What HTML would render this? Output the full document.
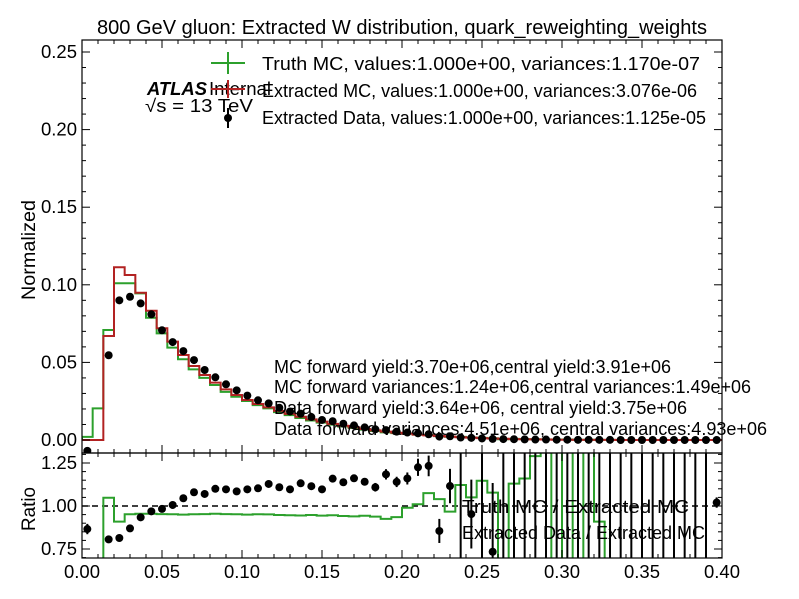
<!DOCTYPE html>
<html><head><meta charset="utf-8"><style>
html,body{margin:0;padding:0;background:#fff;overflow:hidden;}
svg{display:block;font-family:"Liberation Sans",sans-serif;}
</style></head><body>
<svg id="chart" width="799" height="599" viewBox="0 0 799 599">
<defs>
<clipPath id="cm"><rect x="82" y="40" width="640" height="413"/></clipPath>
<clipPath id="cr"><rect x="82" y="453" width="640" height="105"/></clipPath>
</defs>
<rect x="0" y="0" width="799" height="599" fill="#fff"/>
<text x="97" y="34" font-size="20" textLength="610" lengthAdjust="spacingAndGlyphs">800 GeV gluon: Extracted W distribution, quark_reweighting_weights</text>
<g id="main" clip-path="url(#cm)"></g>
<g id="ratio" clip-path="url(#cr)"></g>
<g id="axes"></g>
<text transform="translate(35,300) rotate(-90)" font-size="19" textLength="100" lengthAdjust="spacingAndGlyphs">Normalized</text>
<text transform="translate(35,531) rotate(-90)" font-size="19" textLength="44" lengthAdjust="spacingAndGlyphs">Ratio</text>
<g>
<text x="147" y="95" font-size="18" font-weight="bold" font-style="italic" textLength="60" lengthAdjust="spacingAndGlyphs">ATLAS</text>
<text x="209" y="95" font-size="18" textLength="62" lengthAdjust="spacingAndGlyphs">Internal</text>
<text x="145" y="112" font-size="18" textLength="108" lengthAdjust="spacingAndGlyphs">√s =  13 TeV</text>
</g>
<g>
<g><line x1="211" y1="63" x2="245" y2="63" stroke="#2ca02c" stroke-width="2"/><line x1="228" y1="52" x2="228" y2="74" stroke="#2ca02c" stroke-width="2"/><text x="262" y="70" font-size="18" textLength="438" lengthAdjust="spacingAndGlyphs">Truth MC, values:1.000e+00, variances:1.170e-07</text></g>
<g><line x1="211" y1="89" x2="245" y2="89" stroke="#b22222" stroke-width="2"/><line x1="228" y1="80" x2="228" y2="98" stroke="#b22222" stroke-width="2"/><text x="262" y="97" font-size="18" textLength="435" lengthAdjust="spacingAndGlyphs">Extracted MC, values:1.000e+00, variances:3.076e-06</text></g>
<g><line x1="228" y1="108" x2="228" y2="128" stroke="#000" stroke-width="2"/><circle cx="228" cy="118" r="4" fill="#000"/><text x="262" y="124" font-size="18" textLength="444" lengthAdjust="spacingAndGlyphs">Extracted Data, values:1.000e+00, variances:1.125e-05</text></g>
</g>
<g font-size="18">
<text x="274" y="373" textLength="397" lengthAdjust="spacingAndGlyphs">MC forward yield:3.70e+06,central yield:3.91e+06</text>
<text x="274" y="393" textLength="477" lengthAdjust="spacingAndGlyphs">MC forward variances:1.24e+06,central variances:1.49e+06</text>
<text x="274" y="414" textLength="413" lengthAdjust="spacingAndGlyphs">Data forward yield:3.64e+06, central yield:3.75e+06</text>
<text x="274" y="435" textLength="493" lengthAdjust="spacingAndGlyphs">Data forward variances:4.51e+06, central variances:4.93e+06</text>
</g>
<g font-size="18">
<text x="462" y="513" textLength="227" lengthAdjust="spacingAndGlyphs">Truth MC / Extracted MC</text>
<text x="462" y="539" textLength="243" lengthAdjust="spacingAndGlyphs">Extracted Data / Extracted MC</text>
</g>
</svg>
<script>
const nBins = 60;
const xMin = 0, xMax = 0.4;
const extractedMC = [0,0,0.067,0.1113,0.1063,0.0949,0.0833,0.072,0.0634,0.0548,0.0477,0.0419,0.037,0.0326,0.029,0.0258,0.0232,0.021,0.0188,0.0168,0.015,0.0133,0.0118,0.0104,0.0092,0.0081,0.0071,0.0062,0.0054,0.0047,0.0041,0.0035,0.003,0.0026,0.0022,0.0018,0.0015,0.0012,0.001,0.0008,0.0006,0.0005,0.0004,0.0003,0.0002,0.0002,0.0001,0.0001,0.0001,0.0001,0,0,0,0,0,0,0,0,0,0];
const truthMC = [0.002,0.0204,0.0709,0.101,0.101,0.0945,0.0788,0.0687,0.0595,0.052,0.0455,0.040,0.0354,0.031,0.0279,0.0251,0.0225,0.0204,0.018,0.016,0.0142,0.0126,0.0112,0.0099,0.0087,0.0077,0.0067,0.0058,0.0049,0.0044,0.0041,0.0035,0.0032,0.0025,0.0021,0.002,0.0016,0.0014,0.0011,0.0005,0.0007,0.0006,0.0005,0.0004,0.0003,0.0003,0.0002,0.0002,0.0001,0.0001,0,0,0,0,0,0,0,0,0,0];
const extractedData = [-0.007,null,0.0546,0.090,0.0923,0.088,0.081,0.0707,0.0631,0.0573,0.0515,0.0451,0.0404,0.0359,0.032,0.0286,0.0256,0.0236,0.0208,0.0184,0.017,0.0148,0.0129,0.0121,0.0105,0.0094,0.0081,0.0069,0.0064,0.0054,0.0048,0.0043,0.0037,0.0022,0.0024,0.0016,0.0014,0.001,0.0007,0.0006,0.0005,0.0004,0.0003,0.0003,0.0002,0.0002,0.0001,0.0001,0.0001,0.0001,0,0,0,0,0,0,0,0,0,0];
const ratioTruth = [null,-1,1.048,0.909,0.952,0.955,0.955,0.953,0.952,0.95,0.952,0.953,0.955,0.953,0.952,0.95,0.952,0.951,0.948,0.946,0.945,0.948,0.944,0.946,0.942,0.94,0.943,0.938,0.925,0.935,0.99,1.01,1.075,1.04,0.967,1.122,1.05,1.147,1.078,-1,1.13,1.16,1.29,3,-1,3,-1,3,0.909,-1,null,null,null,null,null,null,null,null,null,null];
const ratioData = [0.866,null,0.806,0.814,0.87,0.934,0.969,0.983,1.006,1.045,1.08,1.07,1.10,1.097,1.085,1.097,1.103,1.128,1.109,1.097,1.132,1.115,1.097,1.159,1.138,1.161,1.141,1.109,1.184,1.14,1.16,1.225,1.233,0.855,1.116,null,0.953,null,0.734,null,null,null,null,null,null,null,null,null,null,null,null,null,null,null,null,null,null,null,null,1.02];
const ratioDataErr = [0.03,0,0.01,0.01,0.01,0.01,0.01,0.01,0.01,0.01,0.01,0.01,0.01,0.01,0.01,0.012,0.012,0.015,0.015,0.015,0.015,0.015,0.017,0.02,0.02,0.02,0.02,0.025,0.03,0.03,0.035,0.05,0.06,0.07,0.1,1,0.2,1,0.4,1,1,1,1,1,1,1,1,1,1,1,1,1,1,1,1,1,1,1,1,0.03];
const mainYTicks = [0,0.05,0.10,0.15,0.20,0.25];
const mainYLabels = ["0.00","0.05","0.10","0.15","0.20","0.25"];
const ratioYTicks = [0.75,1.0,1.25];
const ratioYLabels = ["0.75","1.00","1.25"];
const xTicks = [0,0.05,0.1,0.15,0.2,0.25,0.3,0.35,0.4];
const xLabels = ["0.00","0.05","0.10","0.15","0.20","0.25","0.30","0.35","0.40"];

const L=82,R=722,MT=40,MB=453,RT=453,RB=558;
const X = v => L + (v-xMin)/(xMax-xMin)*(R-L);
const Y = v => 440 - v*1552;
const YR = v => 506 - (v-1)*172;
const NS="http://www.w3.org/2000/svg";
function mk(tag, attrs, parent){const e=document.createElementNS(NS,tag);for(const k in attrs)e.setAttribute(k,attrs[k]);parent.appendChild(e);return e;}
const bw=(xMax-xMin)/nBins;
const main=document.getElementById('main'), ratio=document.getElementById('ratio'), axes=document.getElementById('axes');

function histPath(vals){
  let d='M'+X(xMin)+','+Y(0);
  for(let i=0;i<vals.length;i++){const x0=X(xMin+i*bw),x1=X(xMin+(i+1)*bw),y=Y(vals[i]);d+='L'+x0+','+y+'L'+x1+','+y;}
  return d;
}
const pt=mk('path',{d:histPath(truthMC),fill:'none',stroke:'#2ca02c','stroke-width':2},main);


const pr=mk('path',{d:histPath(extractedMC),fill:'none',stroke:'#b22222','stroke-width':2},main);


extractedData.forEach((v,i)=>{
  if(v===null) return;
  const c=mk('circle',{cx:X(xMin+(i+0.5)*bw),cy:Y(v),r:4,fill:'#000'},main);
  
  
});
mk('line',{x1:L,x2:R,y1:YR(1),y2:YR(1),stroke:'#000','stroke-width':1.5,'stroke-dasharray':'6,4'},ratio);
let d='',prev=null;
for(let i=0;i<ratioTruth.length;i++){
  const v=ratioTruth[i]; if(v===null){prev=null;continue;}
  const x0=X(xMin+i*bw),x1=X(xMin+(i+1)*bw),y=Math.max(300,Math.min(700,YR(v)));
  d+=(prev===null?'M':'L')+x0+','+y+'L'+x1+','+y; prev=y;
}
const rt=mk('path',{d:d,fill:'none',stroke:'#2ca02c','stroke-width':2},ratio);


ratioData.forEach((v,i)=>{
  const cx=X(xMin+(i+0.5)*bw);
  const c0 = v===null?1:v, e=ratioDataErr[i];
  if(e>0){const l=mk('line',{x1:cx,x2:cx,y1:Math.min(700,YR(c0-e)),y2:Math.max(300,YR(c0+e)),stroke:'#000','stroke-width':2},ratio);
    
    }
  if(v!==null){const c=mk('circle',{cx:cx,cy:YR(v),r:4,fill:'#000'},ratio);
    
    }
});
const f1=mk('rect',{x:L,y:MT,width:R-L,height:MB-MT,fill:'none',stroke:'#000','stroke-width':1.2},axes);


const f2=mk('rect',{x:L,y:RT,width:R-L,height:RB-RT,fill:'none',stroke:'#000','stroke-width':1.2},axes);


function tk(x1,y1,x2,y2){mk('line',{x1,y1,x2,y2,stroke:'#000','stroke-width':1},axes);}
for(let k=0;k<=40;k++){const x=X(k*0.01),maj=k%5===0,len=maj?8:4;
  tk(x,MT,x,MT+len);tk(x,MB,x,MB-len);tk(x,RT,x,RT+len);tk(x,RB,x,RB-len);}
xTicks.forEach((v,i)=>{const t=mk('text',{x:X(v),y:578,'font-size':18.5,'text-anchor':'middle'},axes);t.textContent=xLabels[i];
  
  });
for(let k=0;k<=25;k++){const y=Y(k*0.01),len=k%5===0?8:4;tk(L,y,L+len,y);tk(R,y,R-len,y);}
mainYTicks.forEach((v,i)=>{const t=mk('text',{x:77,y:Y(v)+6,'font-size':18.5,'text-anchor':'end'},axes);t.textContent=mainYLabels[i];
  
  });
for(let k=14;k<=26;k++){const v=k*0.05,y=YR(v),len=(k%5===0)?8:4;tk(L,y,L+len,y);tk(R,y,R-len,y);}
ratioYTicks.forEach((v,i)=>{const t=mk('text',{x:77,y:YR(v)+6,'font-size':18.5,'text-anchor':'end'},axes);t.textContent=ratioYLabels[i];
  
  });
</script>
</body></html>
